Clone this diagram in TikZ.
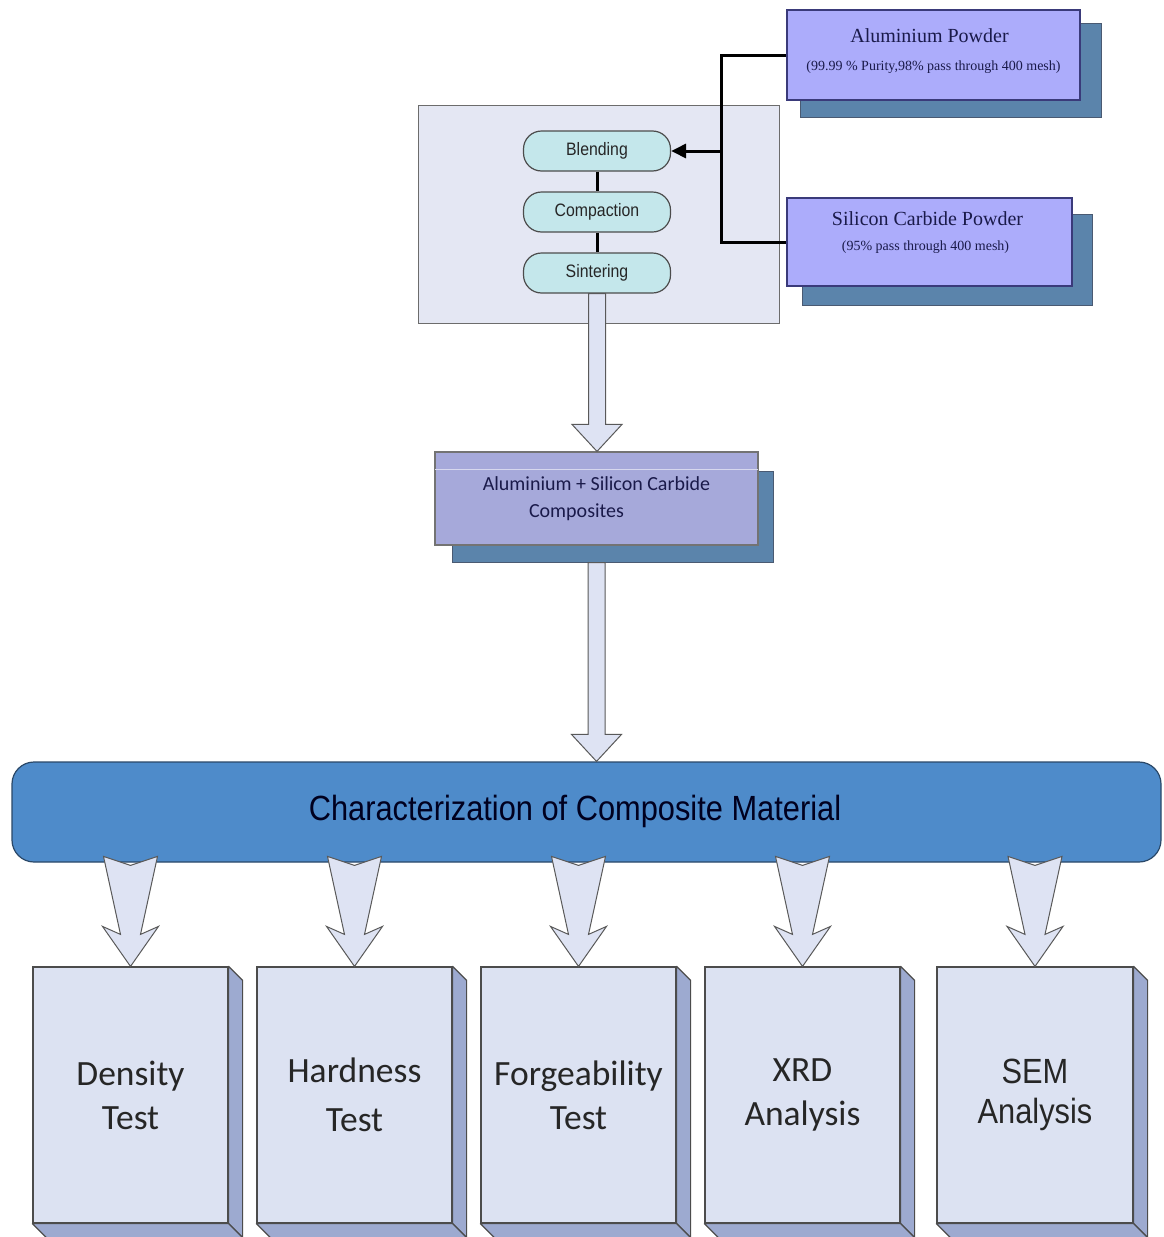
\documentclass[tikz,border=0pt]{standalone}
\usepackage{fontspec}
\setmainfont{Liberation Serif}
\newfontfamily\narrowsf[FakeStretch=0.88]{Liberation Sans}
\newfontfamily\calibri{Carlito}
\usetikzlibrary{calc,arrows.meta,backgrounds}

\definecolor{powderfill}{HTML}{ACACFB}
\definecolor{powderline}{HTML}{3A3A7A}
\definecolor{shadowfill}{HTML}{5B84AB}
\definecolor{shadowline}{HTML}{4A5A72}
\definecolor{procfill}{HTML}{E4E7F3}
\definecolor{pillfill}{HTML}{C4E7EB}
\definecolor{compfill}{HTML}{A6A9DA}
\definecolor{arrowfill}{HTML}{DEE3F3}
\definecolor{barfill}{HTML}{4E8BCA}
\definecolor{barline}{HTML}{2A4868}
\definecolor{testfill}{HTML}{DCE2F2}
\definecolor{sidefill}{HTML}{9DAAD0}
\definecolor{inkblue}{HTML}{1A1A4A}

\begin{document}
\begin{tikzpicture}[x=1pt,y=-1pt,
  powder/.style={draw=powderline,fill=powderfill,line width=1.2pt,
    minimum width=293pt,minimum height=90pt,inner sep=0pt},
  powdertitle/.style={text=inkblue,font=\fontsize{20}{24}\selectfont,inner sep=0pt},
  powdernote/.style={text=inkblue,font=\fontsize{14}{16}\selectfont,inner sep=0pt},
  shadowbox/.style={draw=shadowline,fill=shadowfill,line width=1pt},
  procbox/.style={draw=gray!85!black,fill=procfill,line width=1pt,
    minimum width=361pt,minimum height=218pt,inner sep=0pt},
  pill/.style={draw=black!70,fill=pillfill,line width=1.2pt,rounded corners=18pt,
    minimum width=147pt,minimum height=40pt,inner sep=0pt,
    font=\narrowsf\fontsize{18}{20}\selectfont,text=black!85},
  link/.style={line width=3pt,draw=black},
  compbox/.style={draw=black!55,fill=compfill,line width=1.2pt,
    minimum width=323pt,minimum height=93pt,inner sep=0pt,align=center,
    text=inkblue,font=\calibri\fontsize{20}{27}\selectfont},
  blockarrow/.style={draw=black!65,fill=arrowfill,line width=1pt,line join=miter},
  bar/.style={draw=barline,fill=barfill,line width=1.2pt,rounded corners=22pt,
    minimum width=1149pt,minimum height=100pt,inner sep=0pt},
  bartext/.style={font=\narrowsf\fontsize{35}{40}\selectfont,text=black!80!blue!60!black},
  testbox/.style={draw=black!70,fill=testfill,line width=1.2pt,
    minimum width=195pt,minimum height=256pt,inner sep=0pt,align=center,
    text=black!85,font=\calibri\fontsize{35.5}{44}\selectfont},
  face/.style={draw=black!70,fill=sidefill,line width=1.2pt,line join=round}]

\useasboundingbox (0,0) rectangle (1163,1237);

% raw materials
\node[powder] (alum) at (933.5,55) {};
\node[powdertitle] (alumtitle) at ($(alum)+(-4,-19)$) {Aluminium Powder};
\node[powdernote] (alumnote) at ($(alum)+(0,12)$) {(99.99 \% Purity,98\% pass through 400 mesh)};
\node[powder,minimum width=285pt,minimum height=88pt] (sic) at (929.5,242) {};
\node[powdertitle] (sictitle) at ($(sic)+(-2,-23)$) {Silicon Carbide Powder};
\node[powdernote] (sicnote) at ($(sic)+(-4,5)$) {(95\% pass through 400 mesh)};

% powder metallurgy route
\node[procbox] (proc) at (598.5,214) {};
\node[pill] (blend) at (597,151) {Blending};
\node[pill] (compa) at (597,212) {Compaction};
\node[pill] (sint) at (597,273) {Sintering};
\draw[link] (blend.south) -- (compa.north);
\draw[link] (compa.south) -- (sint.north);

\coordinate (j) at (721,151);
\draw[link] (alum.west) -| (j) |- (sic.west);
\draw[link,-{Triangle[length=15pt,width=14pt]}] (j) -- (blend.east);

% composite product
\node[compbox] (comp) at (596.5,498.5) {Aluminium + Silicon Carbide\\Composites\hspace*{40pt}};
\draw[white!55!compfill,line width=1.5pt] ($(comp.north west)+(1,18)$) -- ($(comp.north east)+(-1,18)$);

% characterization bar
\node[bar] (bar) at (586.5,812) {};
\node[bartext] (bartitle) at (575,811) {Characterization of Composite Material};

% shadows behind the raised boxes
\begin{scope}[on background layer]
  \fill[white] (0,0) rectangle (1163,1237);
  \draw[shadowbox] ($(alum.north west)+(14,14)$) rectangle ($(alum.south east)+(21,17)$);
  \draw[shadowbox] ($(sic.north west)+(16,17)$) rectangle ($(sic.south east)+(20,19)$);
  \draw[shadowbox] ($(comp.north west)+(18,20)$) rectangle ($(comp.south east)+(15,17)$);
\end{scope}

% block arrows along the main flow
\draw[blockarrow] ($(sint.south)+(-8.5,0)$) -- ($(sint.south |- comp.north)+(-8.5,-27)$)
  -- ($(sint.south |- comp.north)+(-25,-27)$) -- (sint.south |- comp.north)
  -- ($(sint.south |- comp.north)+(25,-27)$) -- ($(sint.south |- comp.north)+(8.5,-27)$)
  -- ($(sint.south)+(8.5,0)$) -- cycle;
\draw[blockarrow] ($(comp.south)+(-8.5,17)$) -- ($(comp.south |- bar.north)+(-8.5,-27)$)
  -- ($(comp.south |- bar.north)+(-25,-27)$) -- (comp.south |- bar.north)
  -- ($(comp.south |- bar.north)+(25,-27)$) -- ($(comp.south |- bar.north)+(8.5,-27)$)
  -- ($(comp.south)+(8.5,17)$) -- cycle;

% test boxes
\node[testbox] (dens) at (130.5,1095) {Density\\Test};
\node[testbox] (hard) at (354.5,1095) {Hardness\\[5pt]Test};
\node[testbox] (forg) at (578.5,1095) {Forgeability\\Test};
\node[testbox] (xrd)  at (802.5,1095) {XRD\\Analysis};
\node[testbox,minimum width=196pt,font=\narrowsf\fontsize{35}{40}\selectfont] (sem) at (1035,1095) {SEM\\Analysis};

\foreach \b in {dens,hard,forg,xrd,sem}{
  \draw[face] (\b.north east) -- ($(\b.north east)+(14,14)$) -- ($(\b.south east)+(14,14)$)
    -- (\b.south east) -- cycle;
  \draw[face] (\b.south west) -- (\b.south east) -- ($(\b.south east)+(14,14)$)
    -- ($(\b.south west)+(14,14)$) -- cycle;
  \draw[blockarrow] ($(\b.north)+(-27,-110)$) -- ($(\b.north)+(0,-101)$)
    -- ($(\b.north)+(27,-110)$) -- ($(\b.north)+(10,-32)$) -- ($(\b.north)+(28,-40)$)
    -- (\b.north) -- ($(\b.north)+(-28,-40)$) -- ($(\b.north)+(-10,-32)$) -- cycle;
}
\end{tikzpicture}
\end{document}
